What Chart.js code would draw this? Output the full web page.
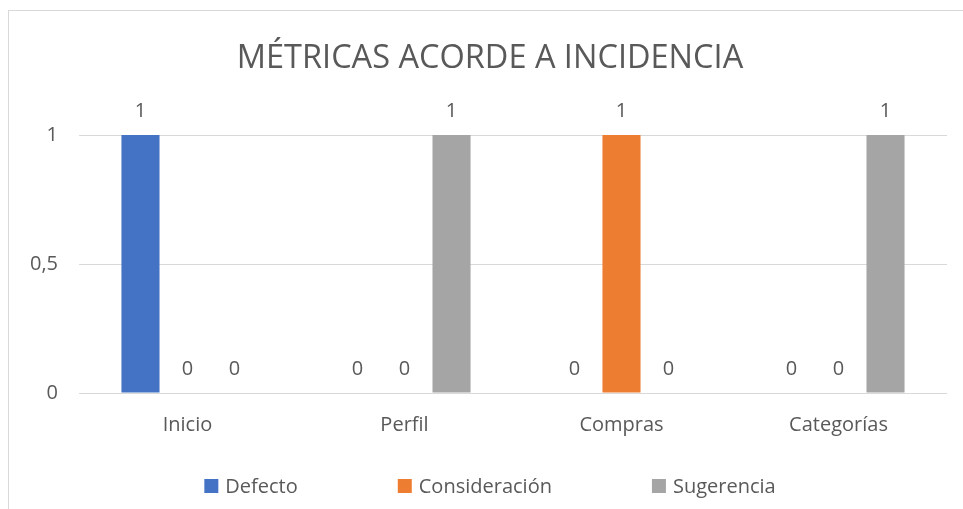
<!DOCTYPE html>
<html lang="es">
<head>
<meta charset="utf-8">
<title>Métricas acorde a incidencia</title>
<script src="https://cdn.jsdelivr.net/npm/chart.js@4.4.1/dist/chart.umd.min.js"></script>
<style>
    html, body { margin: 0; padding: 0; background: #fff; overflow: hidden; }
    #marco {
        position: absolute;
        left: 8px;
        top: 10px;
        width: 962px;
        height: 520px;
        border: 1px solid #d9d9d9;
        box-sizing: border-box;
    }
    #marco canvas { position: absolute; left: 0; top: 0; }
</style>
</head>
<body>
<div id="marco">
    <canvas id="grafico" width="962" height="498"></canvas>
</div>
<script>
const categorias = ["Inicio", "Perfil", "Compras", "Categorías"];
const defecto = [1, 0, 0, 0];
const consideracion = [0, 0, 1, 0];
const sugerencia = [0, 1, 0, 1];
const ticksY = [0, 0.5, 1];

const grisTexto = "#595959";
Chart.defaults.font.family = "'Open Sans', 'DejaVu Sans', sans-serif";
Chart.defaults.color = grisTexto;

// numbers drawn over each bar
const etiquetasValor = {
    id: "etiquetasValor",
    afterDatasetsDraw(chart) {
        const ctx = chart.ctx;
        ctx.save();
        ctx.font = "20px 'Open Sans'";
        ctx.fillStyle = grisTexto;
        ctx.textAlign = "center";
        ctx.textBaseline = "middle";
        chart.data.datasets.forEach((ds, i) => {
            chart.getDatasetMeta(i).data.forEach((bar, j) => {
                ctx.fillText(String(ds.data[j]), bar.x, bar.y - 24);
            });
        });
        ctx.restore();
    }
};

// legend row at the bottom with wide spacing between entries
const leyendaInferior = {
    id: "leyendaInferior",
    afterDraw(chart) {
        const ctx = chart.ctx;
        const caja = 14, hueco = 7, separacion = 100;
        const y = chart.height - 23;
        ctx.save();
        ctx.font = "20px 'Open Sans'";
        ctx.textBaseline = "middle";
        ctx.textAlign = "left";
        const items = chart.data.datasets.map(ds => ({
            texto: ds.label,
            color: ds.backgroundColor,
            ancho: caja + hueco + ctx.measureText(ds.label).width
        }));
        const total = items.reduce((s, it) => s + it.ancho, 0) + separacion * (items.length - 1);
        let x = chart.width / 2 - total / 2;
        items.forEach(it => {
            ctx.fillStyle = it.color;
            ctx.fillRect(x, y - caja / 2, caja, caja);
            ctx.fillStyle = grisTexto;
            ctx.fillText(it.texto, x + caja + hueco, y + 1);
            x += it.ancho + separacion;
        });
        ctx.restore();
    }
};

const ctx = document.getElementById("grafico").getContext("2d");
new Chart(ctx, {
    type: "bar",
    data: {
        labels: categorias,
        datasets: [
            { label: "Defecto", data: defecto, backgroundColor: "#4472C4" },
            { label: "Consideración", data: consideracion, backgroundColor: "#ED7D31" },
            { label: "Sugerencia", data: sugerencia, backgroundColor: "#A5A5A5" }
        ]
    },
    options: {
        responsive: false,
        animation: false,
        categoryPercentage: 0.65,
        barPercentage: 0.81,
        layout: { padding: { left: 0, right: 0, top: 0, bottom: 52 } },
        plugins: {
            legend: { display: false },
            tooltip: { enabled: false },
            title: {
                display: true,
                text: "MÉTRICAS ACORDE A INCIDENCIA",
                color: grisTexto,
                font: { size: 32.5, weight: "normal" },
                padding: { top: 28, bottom: 57 }
            }
        },
        scales: {
            x: {
                grid: { display: false, drawTicks: false },
                border: { display: false },
                ticks: { padding: 20, font: { size: 20 }, color: grisTexto }
            },
            y: {
                min: 0,
                max: 1,
                afterBuildTicks(scale) {
                    scale.ticks = ticksY.map(v => ({ value: v }));
                },
                afterFit(scale) { scale.width = 70; },
                grid: { color: "#d9d9d9", lineWidth: 1, drawTicks: false },
                border: { display: false },
                ticks: {
                    padding: 21,
                    font: { size: 20 },
                    color: grisTexto,
                    callback: v => String(v).replace(".", ",")
                }
            },
            // empty right-hand margin so the plot stops short of the frame
            margenDerecho: {
                type: "linear",
                position: "right",
                afterFit(scale) { scale.width = 24; },
                grid: { display: false, drawTicks: false },
                border: { display: false },
                ticks: { display: false }
            }
        }
    },
    plugins: [etiquetasValor, leyendaInferior]
});
</script>
</body>
</html>
